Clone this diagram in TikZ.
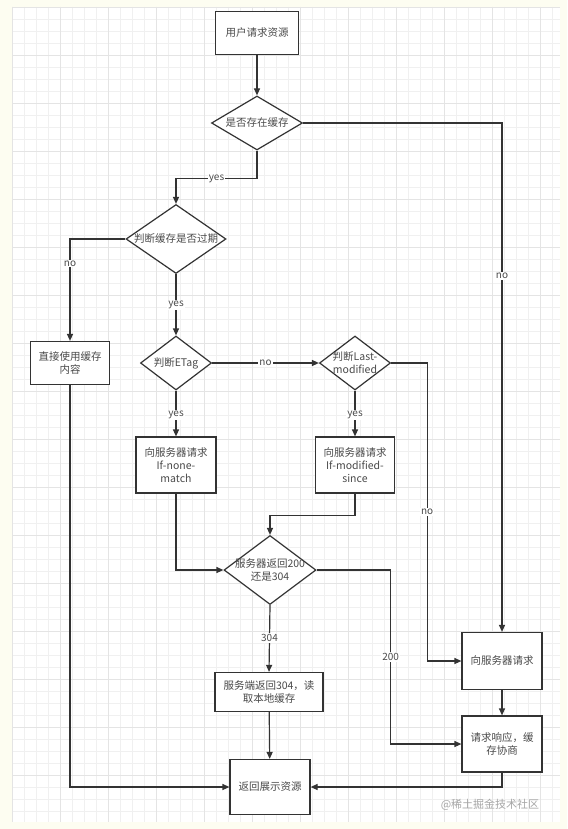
\documentclass[tikz,border=0pt]{standalone}
\usepackage{fontspec}
\setmainfont{Noto Sans CJK SC}
\usetikzlibrary{shapes.geometric,arrows.meta}
\definecolor{flowLine}{HTML}{333333}
\definecolor{flowText}{HTML}{4A4A4A}
\definecolor{flowPaper}{HTML}{FDFDF1}
\definecolor{flowGrid}{HTML}{F0F0F0}
\definecolor{flowGridMajor}{HTML}{E4E4E4}
\tikzset{
  box/.style={draw=flowLine, line width=1.2pt, fill=white, align=center,
    inner sep=2pt, font=\fontsize{10.5}{13}\selectfont, text=flowText},
  decision/.style={draw=flowLine, line width=1.2pt, fill=white, diamond,
    inner sep=0pt, label={[font=\fontsize{10.5}{13}\selectfont, text=flowText, align=center]center:#1}},
  flow/.style={draw=flowLine, line width=1.2pt, -{Triangle[length=7pt,width=6pt]}},
  lbl/.style={fill=white, inner sep=1pt, text=flowText, font=\fontsize{10}{12}\selectfont},
}
\begin{document}
\begin{tikzpicture}[x=1pt, y=-1pt]
% Page and grid paper
\useasboundingbox (0,0) rectangle (567,829);
\fill[flowPaper] (0,0) rectangle (567,829);
\fill[white] (12,7) rectangle (560,822);
\foreach \gx in {12,24,...,560} \draw[flowGrid, line width=0.6pt] (\gx,7) -- (\gx,822);
\foreach \gy in {7,19,...,822} \draw[flowGrid, line width=0.6pt] (12,\gy) -- (560,\gy);
\foreach \gx in {12,60,...,560} \draw[flowGridMajor, line width=0.7pt] (\gx,7) -- (\gx,822);
\foreach \gy in {7,55,...,822} \draw[flowGridMajor, line width=0.7pt] (12,\gy) -- (560,\gy);
% Boxes
\node[box, minimum width=83pt, minimum height=43pt] (start) at (257,33) {用户请求资源};
\node[box, minimum width=79pt, minimum height=43pt] (direct) at (70,363) {直接使用缓存\\内容};
\node[box, minimum width=80pt, minimum height=56pt] (etagreq) at (176,465) {向服务器请求\\If-none-\\match};
\node[box, minimum width=79pt, minimum height=56pt] (lmreq) at (355,465) {向服务器请求\\If-modified-\\since};
\node[box, minimum width=108pt, minimum height=39pt] (read304) at (269,692) {服务端返回304，读\\取本地缓存};
\node[box, minimum width=80pt, minimum height=57pt] (srvreq) at (502,661) {向服务器请求};
\node[box, minimum width=80pt, minimum height=56pt] (resp) at (502,744) {请求响应，缓\\存协商};
\node[box, minimum width=80pt, minimum height=55pt] (show) at (270,787) {返回展示资源};
% Decisions
\node[decision={是否存在缓存}, minimum width=91pt, minimum height=54pt] (exists) at (257,123) {};
\node[decision={判断缓存是否过期}, minimum width=100pt, minimum height=69pt] (expired) at (176,239) {};
\node[decision={判断ETag}, minimum width=71pt, minimum height=54pt] (etag) at (176,363) {};
\node[decision={判断Last-\\modified}, minimum width=71pt, minimum height=54pt] (lastmod) at (355,363) {};
\node[decision={服务器返回200\\还是304}, minimum width=92pt, minimum height=69pt] (code) at (270,570) {};
% Connectors
\draw[flow] (start) -- (exists);
\draw[flow] (exists.south) -- ++(0,28) -| node[pos=0.25, lbl] {yes} (expired.north);
\draw[flow] (exists.east) -| node[pos=0.65, lbl] {no} (srvreq.north);
\draw[flow] (expired.west) -| node[pos=0.62, lbl] {no} (direct.north);
\draw[flow] (expired.south) -- node[lbl] {yes} (etag.north);
\draw[flow] (etag.east) -- node[lbl] {no} (lastmod.west);
\draw[flow] (etag.south) -- node[pos=0.53, lbl] {yes} (etagreq.north);
\draw[flow] (lastmod.south) -- node[pos=0.53, lbl] {yes} (lmreq.north);
\draw[flow] (lastmod.east) -- ++(36,0) |- node[pos=0.25, lbl] {no} (srvreq.west);
\draw[flow] (etagreq.south) |- (code.west);
\draw[flow] (lmreq.south) -- ++(0,22) -| (code.north);
\draw[flow] (code.south) -- node[pos=0.49, lbl] {304} (read304.north);
\draw[flow] (code.east) -- ++(74,0) |- node[pos=0.25, lbl] {200} (resp.west);
\draw[flow] (read304) -- (show);
\draw[flow] (srvreq) -- (resp);
\draw[flow] (resp.south) |- (show.east);
\draw[flow] (direct.south) |- (show.west);
% Watermark
\node[text=black!35, font=\fontsize{11}{13}\selectfont] (mark) at (490,805) {@稀土掘金技术社区};
\end{tikzpicture}
\end{document}
